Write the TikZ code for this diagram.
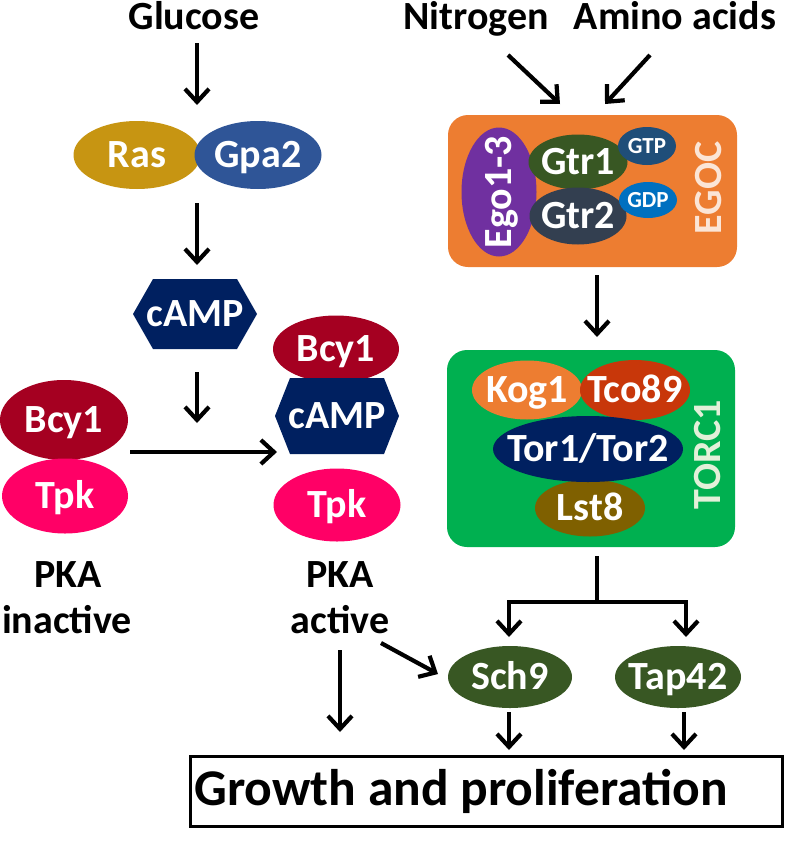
\documentclass[tikz,border=0pt]{standalone}
\usepackage{fontspec}
\setmainfont{Carlito}
\usetikzlibrary{shapes.geometric,arrows.meta}
\definecolor{ras}{RGB}{199,149,18}
\definecolor{gpa}{RGB}{47,85,151}
\definecolor{navy}{RGB}{0,32,96}
\definecolor{bcy}{RGB}{165,0,33}
\definecolor{tpk}{RGB}{255,0,102}
\definecolor{egoc}{RGB}{237,125,49}
\definecolor{ego}{RGB}{112,48,160}
\definecolor{gtrone}{RGB}{56,87,35}
\definecolor{gtp}{RGB}{31,78,121}
\definecolor{gtrtwo}{RGB}{51,63,80}
\definecolor{gdp}{RGB}{0,112,192}
\definecolor{egoctxt}{RGB}{251,229,214}
\definecolor{torcbox}{RGB}{0,176,80}
\definecolor{kog}{RGB}{237,125,49}
\definecolor{tco}{RGB}{200,55,10}
\definecolor{lst}{RGB}{127,96,0}
\definecolor{torctxt}{RGB}{226,240,217}
\definecolor{sch}{RGB}{56,87,35}
\begin{document}
\begin{tikzpicture}[x=1pt,y=-1pt,
  every node/.style={font=\bfseries\fontsize{40}{44}\selectfont},
  blob/.style n args={3}{ellipse, fill=#1, inner sep=0pt, outer sep=0pt, minimum width=#2, minimum height=#3},
  lbl/.style={text=white, inner sep=0pt, text height=25pt, text depth=0pt},
  small/.style={text=white, inner sep=0pt, text height=15pt, text depth=0pt, font=\bfseries\fontsize{23}{25}\selectfont},
  hexa/.style n args={3}{rectangle, inner sep=0pt, outer sep=0pt, minimum width=#1, minimum height=#2,
    path picture={\fill[navy] (path picture bounding box.west) -- ([xshift=#3]path picture bounding box.north west) -- ([xshift=-#3]path picture bounding box.north east) -- (path picture bounding box.east) -- ([xshift=-#3]path picture bounding box.south east) -- ([xshift=#3]path picture bounding box.south west) -- cycle;}},
  cplx/.style={rectangle, rounded corners=20pt, inner sep=0pt, outer sep=0pt},
  ttl/.style={anchor=base, inner sep=0pt, text=black},
  arr/.style={line width=4.2pt, -{Straight Barb[length=13pt,width=24pt]}},
  ln/.style={line width=4.2pt}
]
\useasboundingbox (0,0) rectangle (788,854);

% titles
\node[ttl] (glucose) at (194,29) {Glucose};
\node[ttl] (nitrogen) at (476,29) {Nitrogen};
\node[ttl] (amino) at (675,29) {Amino acids};

% Ras / Gpa2
\node[blob={ras}{127pt}{68pt}, label={[lbl]center:Ras}] (ras) at (137,155) {};
\node[blob={gpa}{127pt}{68pt}, label={[lbl]center:Gpa2}] (gpa) at (258,155) {};

% cAMP
\node[hexa={124pt}{70pt}{20pt}, label={[lbl]center:cAMP}] (camp) at (195,314) {};

% PKA inactive
\node[blob={bcy}{128pt}{80pt}, label={[lbl]center:Bcy1}] (bcyL) at (64,420) {};
\node[blob={tpk}{126pt}{75pt}, label={[lbl]center:Tpk}] (tpkL) at (65,496) {};

% PKA active
\node[blob={bcy}{126pt}{67pt}, label={[lbl]center:Bcy1}] (bcyR) at (336,349) {};
\node[hexa={124pt}{76pt}{15pt}, label={[lbl]center:cAMP}] (campR) at (337,416) {};
\node[blob={tpk}{127pt}{73pt}, label={[lbl]center:Tpk}] (tpkR) at (337,505) {};

\node[ttl] (pkai1) at (68,587) {PKA};
\node[ttl] (pkai2) at (67,633) {inactive};
\node[ttl] (pkaa1) at (340,587) {PKA};
\node[ttl] (pkaa2) at (340,633) {active};

% EGOC
\node[cplx, fill=egoc, minimum width=289pt, minimum height=152pt] (egocbox) at (592.5,191) {};
\node[blob={ego}{75pt}{129pt}, label={[lbl,rotate=90]center:Ego1-3}] (ego) at (499,192) {};
\node[blob={gtrone}{99pt}{55pt}, label={[lbl]center:Gtr1}] (gtr1) at (578,162) {};
\node[blob={gtrtwo}{97pt}{57pt}, label={[lbl]center:Gtr2}] (gtr2) at (578,216) {};
\node[blob={gtp}{58pt}{38pt}, label={[small]center:GTP}] (gtp) at (647,146) {};
\node[blob={gdp}{58pt}{36pt}, label={[small]center:GDP}] (gdp) at (648,200) {};
\node[rotate=90, text=egoctxt, inner sep=0pt, text height=25pt, text depth=0pt] (egoclbl) at (709,188) {EGOC};

% TORC1
\node[cplx, fill=torcbox, minimum width=288pt, minimum height=197pt] (torcbox) at (591,448.5) {};
\node[blob={kog}{110pt}{59pt}, label={[lbl]center:Kog1}] (kog) at (527,390) {};
\node[blob={tco}{110pt}{60pt}, label={[lbl]center:Tco89}] (tco) at (635,390) {};
\node[blob={lst}{110pt}{57pt}, label={[lbl]center:Lst8}] (lst) at (590,508) {};
\node[blob={navy}{190pt}{66pt}, label={[lbl]center:Tor1/Tor2}] (tor) at (588,449) {};
\node[rotate=90, text=torctxt, inner sep=0pt, text height=25pt, text depth=0pt] (torclbl) at (708,455) {TORC1};

% Sch9 / Tap42
\node[blob={sch}{124pt}{62pt}, label={[lbl]center:Sch9}] (sch9) at (510,677) {};
\node[blob={sch}{126pt}{62pt}, label={[lbl]center:Tap42}] (tap42) at (678,677) {};

% Growth box
\node[rectangle, draw=black, line width=3pt, minimum width=592pt, minimum height=70pt, inner sep=0pt] (growth) at (486,791) {};
\node[inner sep=0pt, font=\bfseries\fontsize{51.5}{55}\selectfont, text height=33pt, text depth=0pt] (growthtxt) at (461,789) {Growth and proliferation};

% connector end points
\coordinate (g0) at (197,43);   \coordinate (g1) at (197,105);
\coordinate (r0) at (197,203);  \coordinate (r1) at (197,265);
\coordinate (c0) at (197,372);  \coordinate (c1) at (197,423);
\coordinate (h0) at (130,452);  \coordinate (h1) at (277,452);
\coordinate (n0) at (508,55);   \coordinate (n1) at (560,104);
\coordinate (a0) at (650,55);   \coordinate (a1) at (605,104);
\coordinate (e0) at (597,275);  \coordinate (e1) at (597,337);
\coordinate (t0) at (597,556);  \coordinate (br) at (597,602);
\coordinate (s1) at (509,637);  \coordinate (p1) at (686,637);
\coordinate (k0) at (381,643);  \coordinate (k1) at (438,674);
\coordinate (d0) at (340,650);  \coordinate (d1) at (340,732);
\coordinate (x0) at (509,712);  \coordinate (x1) at (509,750);
\coordinate (y0) at (684,712);  \coordinate (y1) at (684,750);

\draw[arr] (g0) -- (g1);
\draw[arr] (r0) -- (r1);
\draw[arr] (c0) -- (c1);
\draw[arr] (h0) -- (h1);
\draw[arr] (n0) -- (n1);
\draw[arr] (a0) -- (a1);
\draw[arr] (e0) -- (e1);
\draw[ln] (t0) -- (br);
\draw[arr] (br) -| (s1);
\draw[arr] (br) -| (p1);
\draw[arr] (k0) -- (k1);
\draw[arr] (d0) -- (d1);
\draw[arr] (x0) -- (x1);
\draw[arr] (y0) -- (y1);
\end{tikzpicture}
\end{document}
